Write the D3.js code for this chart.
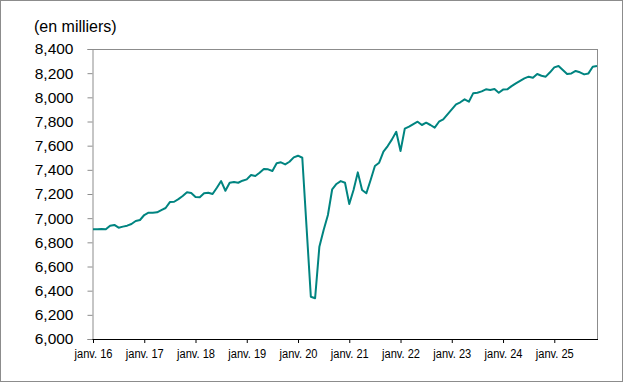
<!DOCTYPE html>
<html><head><meta charset="utf-8">
<script src="https://cdn.jsdelivr.net/npm/d3@7"></script>
<style>
html,body{margin:0;padding:0;background:#fff;}
svg{display:block;font-family:"Liberation Sans",Arial,sans-serif;}
</style></head>
<body>
<svg id="c" width="625" height="383"></svg>
<script>
// Monthly values (thousands), Jan 2016 .. Nov 2025
const values = [
6908,6908,6911,6908,6938,6944,6921,6930,6938,6952,6977,6985,
7026,7045,7045,7048,7067,7084,7133,7136,7158,7183,7214,7208,
7176,7173,7206,7211,7200,7252,7307,7227,7293,7299,7293,7310,
7321,7357,7349,7376,7407,7404,7390,7454,7462,7445,7467,7503,
7517,7500,6925,6350,6337,6764,6902,7026,7239,7283,7307,7293,
7117,7233,7379,7233,7206,7316,7432,7459,7550,7597,7652,7715,
7556,7741,7757,7779,7798,7771,7790,7771,7749,7798,7817,7859,
7900,7942,7959,7983,7964,8033,8038,8049,8066,8060,8069,8038,
8064,8066,8093,8116,8137,8157,8171,8162,8193,8179,8171,8207,
8248,8259,8226,8193,8198,8218,8207,8190,8198,8253,8259
];
const xTickLabels = ["janv. 16","janv. 17","janv. 18","janv. 19","janv. 20","janv. 21","janv. 22","janv. 23","janv. 24","janv. 25"];
const yTicks = [6000,6200,6400,6600,6800,7000,7200,7400,7600,7800,8000,8200,8400];
const unitLabel = "(en milliers)";

const svg = d3.select("#c");
const L = 92.5, R = 597, T = 49, B = 339;
const x = d3.scaleLinear().domain([0, values.length - 1]).range([L + 0.5, R]);
const y = d3.scaleLinear().domain([6000, 8400]).range([B, T]);
const grey = "#8c8c8c";

// outer border
svg.append("rect").attr("x",0.5).attr("y",0.5).attr("width",622).attr("height",381)
  .attr("fill","none").attr("stroke",grey).attr("stroke-width",1);

// plot frame top/right
svg.append("line").attr("x1",L).attr("x2",R).attr("y1",T+0.5).attr("y2",T+0.5).attr("stroke",grey);
svg.append("line").attr("x1",R+0.5).attr("x2",R+0.5).attr("y1",T).attr("y2",B).attr("stroke",grey);

// y axis
const yAxis = d3.axisLeft(y).tickValues(yTicks).tickSize(5).tickPadding(14)
  .tickFormat(d3.format(","));
const gy = svg.append("g").attr("transform",`translate(${L},0)`).call(yAxis);
gy.select(".domain").attr("stroke",grey);
gy.selectAll(".tick line").attr("stroke",grey);
gy.selectAll("text").attr("fill","#000").attr("font-size","15.5px")
  .attr("font-family","Liberation Sans, Arial, sans-serif");

// x axis
const tickIdx = xTickLabels.map((d,i)=>i*12);
const xAxis = d3.axisBottom(x).tickValues(tickIdx).tickSize(4).tickPadding(6)
  .tickFormat((d,i)=>xTickLabels[i]);
const gx = svg.append("g").attr("transform",`translate(0,${B})`).call(xAxis);
gx.select(".domain").attr("stroke","#000").attr("d",`M${L},0.5H${R+1}`);
gx.selectAll(".tick line").attr("stroke","#000");
gx.selectAll("text").attr("fill","#000").attr("font-size","12px")
  .attr("font-family","Liberation Sans, Arial, sans-serif")
  .attr("textLength",38).attr("lengthAdjust","spacingAndGlyphs");

// unit label
svg.append("text").attr("x",34).attr("y",31.5).attr("font-size","16px")
  .attr("fill","#000").text(unitLabel);

// line
const line = d3.line().x((d,i)=>x(i)).y(d=>y(d));
svg.append("path").datum(values).attr("d",line).attr("fill","none")
  .attr("stroke","#008480").attr("stroke-width",2).attr("stroke-linejoin","round");
</script>
</body></html>
